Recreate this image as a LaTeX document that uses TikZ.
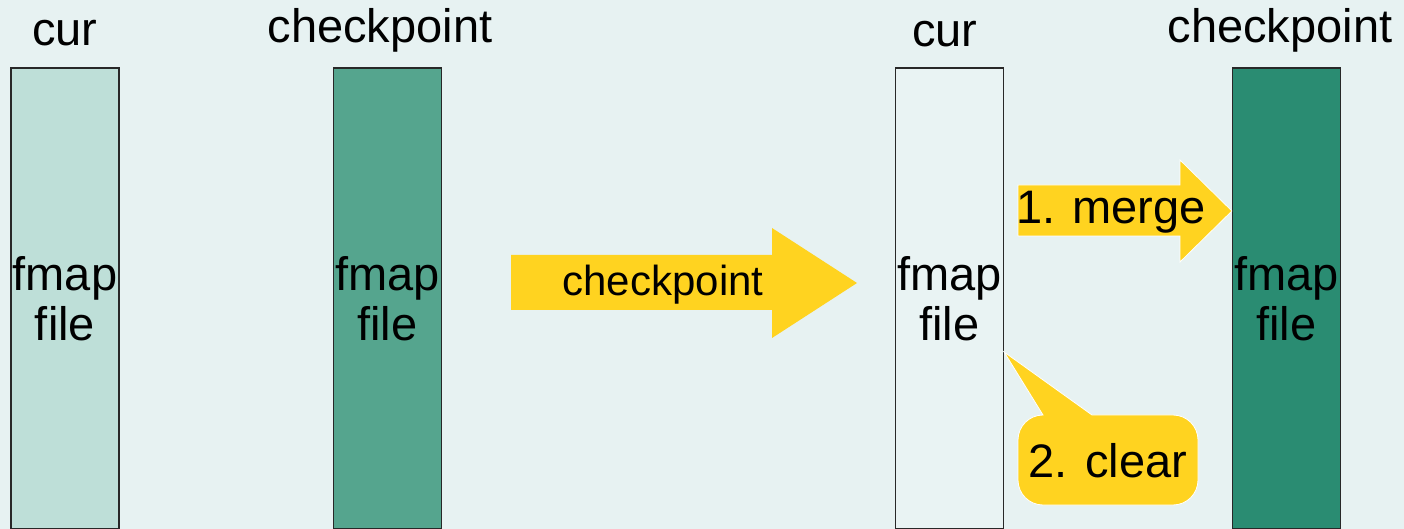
\documentclass[tikz,border=0pt]{standalone}
\usepackage{fontspec}
\setmainfont{Liberation Sans}
\definecolor{bg}{RGB}{231,242,242}
\definecolor{curfill}{RGB}{190,223,216}
\definecolor{ckfill}{RGB}{85,165,142}
\definecolor{ckdark}{RGB}{42,140,114}
\definecolor{emptyfill}{RGB}{233,243,243}
\definecolor{note}{RGB}{255,211,32}
\definecolor{edge}{RGB}{40,40,40}
\tikzset{
  filebox/.style={draw=edge, line width=0.6pt, minimum width=54pt, minimum height=230.5pt,
    inner sep=0pt, align=center, font=\fontsize{23.5}{25}\selectfont},
  title/.style={font=\fontsize{23.5}{25}\selectfont, inner sep=0pt},
  flow/.style={fill=note, draw=white, line width=0.4pt},
  flowtext/.style={font=\fontsize{23.5}{25}\selectfont, inner sep=0pt}
}
\begin{document}
\begin{tikzpicture}[x=0.5pt,y=-0.5pt]
  % canvas
  \fill[bg] (0,0) rectangle (1404,529);
  \useasboundingbox (0,0) rectangle (1404,529);

  % file columns
  \node[filebox, fill=curfill]   (curA) at (65,298.5)   {fmap\\file};
  \node[filebox, fill=ckfill]    (ckA)  at (387.5,298.5) {fmap\\file};
  \node[filebox, fill=emptyfill] (curB) at (949.5,298.5) {fmap\\file};
  \node[filebox, fill=ckdark]    (ckB)  at (1286.5,298.5) {fmap\\file};

  % column titles
  \node[title] (tcurA) at (65,33)   {cur};
  \node[title] (tckA)  at (380,30)  {checkpoint};
  \node[title] (tcurB) at (945,34)  {cur};
  \node[title] (tckB)  at (1280,30) {checkpoint};

  % checkpoint step arrow
  \fill[note] (511,255) -- (772,255) -- (772,228) -- (857,283) -- (772,338)
    -- (772,310) -- (511,310) -- cycle;
  \node[font=\fontsize{21}{23}\selectfont, inner sep=0pt] (lblck) at (663,285) {checkpoint};

  % merge arrow into the checkpoint file
  \coordinate (mtip) at (ckB.west |- 0,211);
  \draw[flow] (1018,185) -- (1180,185) -- (1180,160) -- (mtip) -- (1180,262)
    -- (1180,236) -- (1018,236) -- cycle;
  \node[flowtext] (lblmerge) at (1111,212) {1. merge};

  % clear callout on the current file (y axis points down, so angles run clockwise)
  \coordinate (ctip) at (curB.east |- 0,352);
  \draw[flow] (1043,415) -- (ctip) -- (1092,415) -- (1173,415)
    arc[start angle=-90, end angle=0, radius=25] -- (1198,480)
    arc[start angle=0, end angle=90, radius=25] -- (1043,505)
    arc[start angle=90, end angle=180, radius=25] -- (1018,440)
    arc[start angle=180, end angle=270, radius=25] -- cycle;
  \node[flowtext] (lblclear) at (1108,461) {2. clear};
\end{tikzpicture}
\end{document}
